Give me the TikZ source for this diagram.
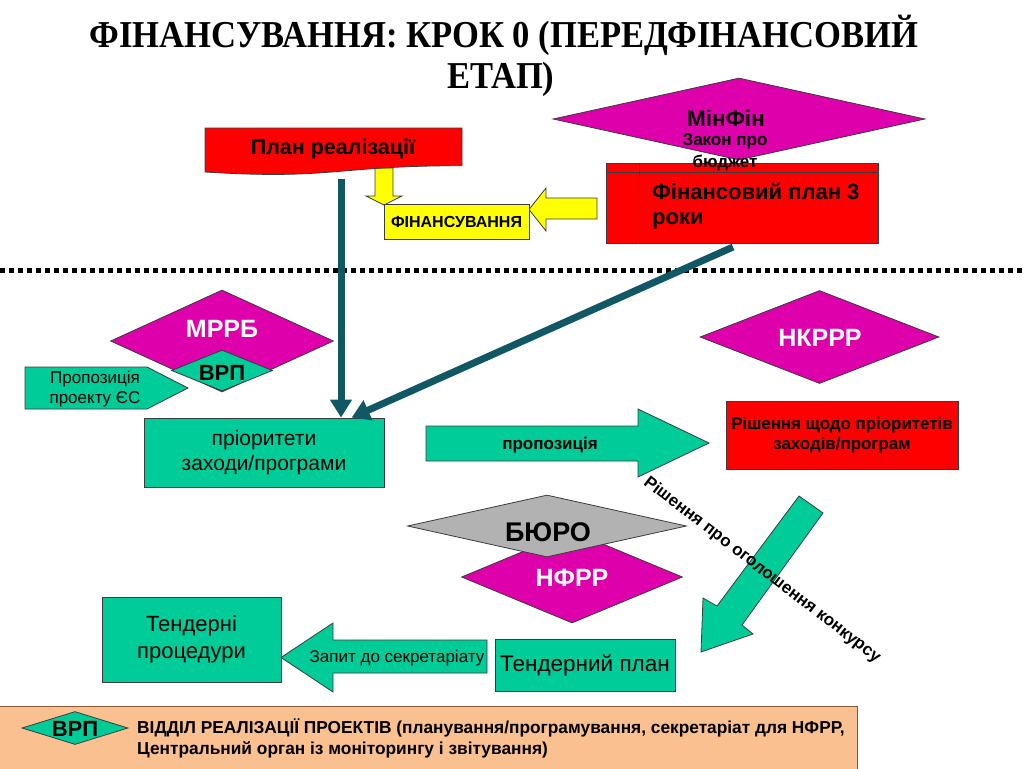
\documentclass[tikz,border=0pt]{standalone}
\usepackage{fontspec}
\setmainfont{Liberation Sans}
\newfontfamily\titlefont{Liberation Serif}[FakeStretch=0.91]
\usetikzlibrary{arrows.meta,shapes.geometric,calc}
\definecolor{magc}{RGB}{222,0,170}
\definecolor{tealc}{RGB}{0,204,153}
\definecolor{darkteal}{RGB}{17,88,100}
\definecolor{peachc}{RGB}{250,192,144}
\definecolor{greyc}{RGB}{178,178,178}
\definecolor{redc}{RGB}{255,0,0}
\definecolor{yelc}{RGB}{255,255,0}
\definecolor{edgec}{RGB}{60,60,60}
\definecolor{footedge}{RGB}{140,90,50}
\newcommand{\myfs}[2]{\fontsize{#1}{#2}\selectfont}
\tikzset{
  edge/.style={draw=edgec, line width=0.8pt},
  tbox/.style={edge, fill=tealc, inner sep=0pt, align=center},
  rbox/.style={edge, fill=redc, inner sep=0pt, align=center},
  ybox/.style={edge, fill=yelc, inner sep=0pt, align=center},
  dia/.style={diamond, edge, inner sep=0pt},
  blockarrow/.style={edge, line join=miter},
  link/.style={draw=darkteal, line width=7pt, -{Triangle[length=18pt,width=21pt]}},
  lbl/.style={inner sep=0pt, align=center},
}
\begin{document}
\begin{tikzpicture}[x=1pt,y=-1pt]
\useasboundingbox (0,0) rectangle (1024,768);
\fill[white] (0,0) rectangle (1024,768);

% title
\node[lbl, anchor=base, font=\titlefont\bfseries\myfs{38}{40}] (title1) at (504,48) {ФІНАНСУВАННЯ: КРОК 0 (ПЕРЕДФІНАНСОВИЙ};
\node[lbl, anchor=base, font=\titlefont\bfseries\myfs{38}{40}] (title2) at (501,88) {ЕТАП)};

% yellow down arrow + plan box
\path[blockarrow, fill=yelc] (375,168) -- (393,168) -- (393,196) -- (402,196) -- (384,205) -- (366,196) -- (375,196) -- cycle;
\path[edge, fill=redc] (205,128) -- (462,128) -- (462,165.7) .. controls (333.5,165.7) and (333.5,180) .. (205,172) -- cycle;
\node[lbl, font=\bfseries\myfs{21.5}{24}] (plan) at (333,149) {План реалізації};

% MinFin diamond and financial plan
\node[dia, fill=magc, minimum width=372pt, minimum height=82pt] (minfin) at (739,119) {};
\node[rbox, minimum width=272pt, minimum height=80pt] (finplan) at (742,203) {};
\draw[edge] ($(finplan.north west)+(0,10)$) -- ($(finplan.north east)+(0,10)$);
\draw[edge] ($(finplan.north west)+(34,0)$) -- ($(finplan.south west)+(34,0)$);
\node[lbl, anchor=base, font=\bfseries\myfs{22.5}{24}] (minfintxt) at (726,126) {МінФін};
\node[lbl, anchor=base, font=\bfseries\myfs{17}{18}] (zakon) at (725,145) {Закон про};
\node[lbl, anchor=base, font=\bfseries\myfs{17}{18}] (budget) at (725,167) {бюджет};
\node[lbl, anchor=base west, font=\bfseries\myfs{22}{25}] (fintxt1) at (652,199) {Фінансовий план 3};
\node[lbl, anchor=base west, font=\bfseries\myfs{22}{25}] (fintxt2) at (652,224) {роки};

% yellow left arrow + financing box
\path[blockarrow, fill=yelc] (597,198) -- (546,198) -- (546,188) -- (529,209.5) -- (546,231) -- (546,219) -- (597,219) -- cycle;
\node[ybox, minimum width=145pt, minimum height=35pt, font=\bfseries\myfs{16}{18}] (finans) at (456.5,221.5) {ФІНАНСУВАННЯ};

% dotted separator
\draw[line width=4.5pt, dash pattern=on 4.5pt off 4.5pt] (0,270.5) -- (1024,270.5);

% MRRB, VRP, proposal
\node[dia, fill=magc, minimum width=223pt, minimum height=102pt] (mrrb) at (222,341) {};
\node[lbl, font=\bfseries\myfs{25}{27}, text=white] (mrrbtxt) at (222,329) {МРРБ};
\node[dia, fill=tealc, minimum width=101pt, minimum height=41pt] (vrp) at (222,370.5) {};
\node[lbl, font=\bfseries\myfs{22}{24}] (vrptxt) at (222,373) {ВРП};
\path[blockarrow, fill=tealc] (25,367) -- (147,367) -- (188,388) -- (147,409) -- (25,409) -- cycle;
\node[lbl, font=\myfs{17}{20}] (propEU) at (95,389) {Пропозиція\\проекту ЄС};

% priorities box
\node[tbox, minimum width=240pt, minimum height=69pt, font=\myfs{21}{25}] (prio) at (264,452.5) {пріоритети\\заходи/програми};

% dark teal connectors
\coordinate (vtop) at (341,179);
\coordinate (dtop) at (733,247);
\coordinate (dend) at ($(prio.north west)+(208,0)$);
\draw[link] (vtop) -- (vtop |- prio.north);
\draw[link] (dtop) -- (dend);

% proposal arrow
\path[blockarrow, fill=tealc] (426,426) -- (638,426) -- (638,409) -- (709,443) -- (638,477) -- (638,461) -- (426,461) -- cycle;
\node[lbl, font=\bfseries\myfs{17}{19}] (proptxt) at (550,445) {пропозиція};

% NKRRR and decision
\node[dia, fill=magc, minimum width=239pt, minimum height=93pt] (nkrrr) at (819.5,337) {};
\node[lbl, font=\bfseries\myfs{25}{27}, text=white] (nkrrrtxt) at (820,338) {НКРРР};
\node[rbox, minimum width=232pt, minimum height=68pt, font=\bfseries\myfs{16.9}{20}] (decis) at (842,435) {Рішення щодо пріоритетів\\заходів/програм};

% NFRR and Bureau
\node[dia, fill=magc, minimum width=221pt, minimum height=92pt] (nfrr) at (572,577) {};
\node[lbl, font=\bfseries\myfs{25}{27}, text=white] (nfrrtxt) at (572,578) {НФРР};
\node[dia, fill=greyc, minimum width=279pt, minimum height=62pt] (buro) at (547,526) {};
\node[lbl, font=\bfseries\myfs{27}{29}] (burotxt) at (548,532) {БЮРО};

% down-left arrow and rotated label
\path[blockarrow, fill=tealc] (799,496) -- (823,513) -- (742,625) -- (753,634) -- (701,652) -- (703,598) -- (717,606) -- cycle;
\node[lbl, rotate=-37.5, font=\bfseries\myfs{17}{20}] (decannounce) at (762,570) {Рішення про оголошення конкурсу};

% bottom row
\node[tbox, minimum width=179pt, minimum height=85pt, font=\myfs{22}{27}] (tproc) at (191.5,639.5) {Тендерні\\процедури};
\path[blockarrow, fill=tealc] (487,640) -- (333,640) -- (333,623) -- (281,657.5) -- (333,692) -- (333,673) -- (487,673) -- cycle;
\node[lbl, font=\myfs{17}{20}] (zapyt) at (397,658) {Запит до секретаріату};
\node[tbox, minimum width=180pt, minimum height=52pt, font=\myfs{22.5}{25}] (tplan) at (585,665) {Тендерний план};

% footer
\path[fill=peachc, draw=footedge, line width=1pt] (-2,706) rectangle (857,772);
\node[dia, fill=tealc, minimum width=106pt, minimum height=33pt] (vrpfoot) at (75,728) {};
\node[lbl, font=\bfseries\myfs{22}{24}] (vrpfoottxt) at (75,729) {ВРП};
\node[lbl, anchor=west, align=left, font=\bfseries\myfs{17.3}{21}] (foottxt) at (137,738) {ВІДДІЛ РЕАЛІЗАЦІЇ ПРОЕКТІВ (планування/програмування, секретаріат для НФРР,\\Центральний орган із моніторингу і звітування)};
\end{tikzpicture}
\end{document}
